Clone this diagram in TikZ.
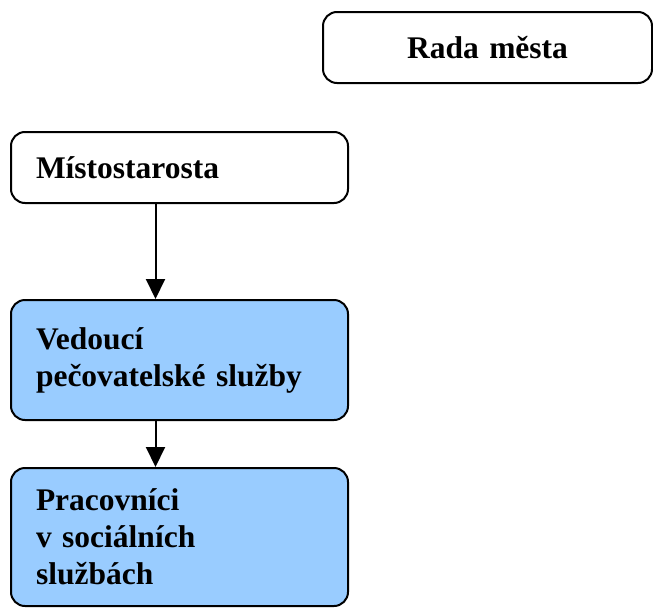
\documentclass[tikz,border=0pt]{standalone}
\usepackage{fontspec}
\setmainfont{Liberation Serif}
\usetikzlibrary{arrows.meta}
\definecolor{boxblue}{HTML}{99CCFF}
\tikzset{
  orgbox/.style={draw=black, line width=2pt, rounded corners=14pt, minimum width=337pt,
    text width=287pt, inner xsep=25pt, align=left,
    font=\fontsize{31.5}{37}\selectfont\bfseries},
  bluebox/.style={orgbox, fill=boxblue},
  conn/.style={line width=2pt, -{Triangle[length=20pt,width=19pt]}}
}
\begin{document}
\begin{tikzpicture}[x=1pt,y=-1pt]
\useasboundingbox (0,0) rectangle (653,608);
\node[orgbox, minimum width=329pt, text width=279pt, align=center, minimum height=71pt] (rada) at (487.5,47.5) {Rada města};
\node[orgbox, minimum height=71pt] (mist) at (179.5,167.5) {Místostarosta};
\node[bluebox, minimum height=120pt] (ved) at (179.5,360) {Vedoucí\\pečovatelské služby};
\node[bluebox, minimum height=138pt] (prac) at (179.5,537) {Pracovníci\\v sociálních\\službách};
\draw[conn] ([xshift=-24pt]mist.south) -- ([xshift=-24pt]ved.north);
\draw[conn] ([xshift=-24pt]ved.south) -- ([xshift=-24pt]prac.north);
\end{tikzpicture}
\end{document}
